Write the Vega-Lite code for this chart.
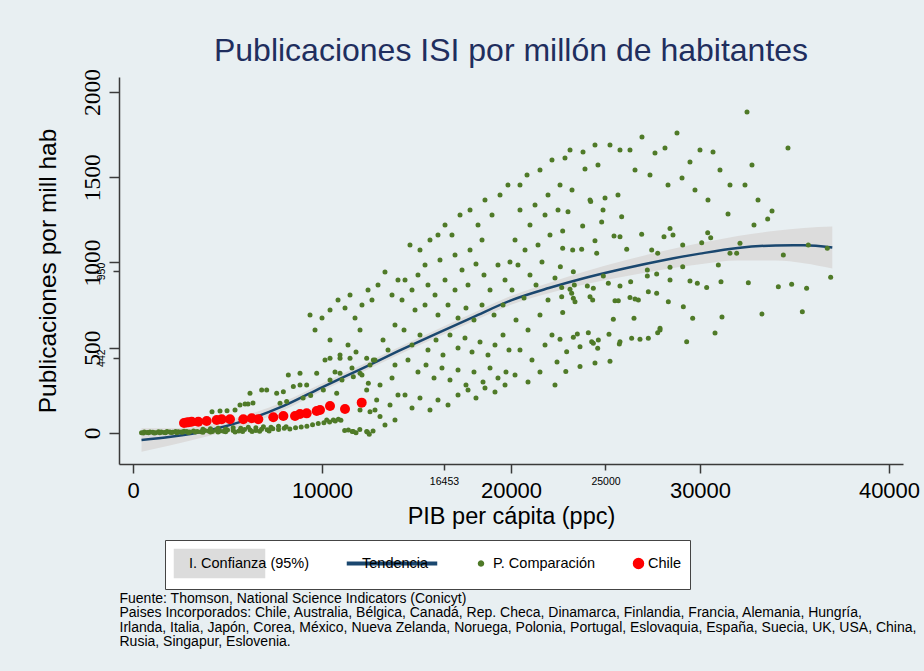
{
  "$schema": "https://vega.github.io/schema/vega-lite/v6.json",
  "width": 784,
  "height": 387,
  "autosize": {"type": "none"},
  "padding": {"left": 119, "top": 77, "right": 21, "bottom": 207},
  "background": "#e8eff2",
  "title": {
    "text": "Publicaciones ISI por millón de habitantes",
    "fontSize": 32,
    "font": "Liberation Sans",
    "fontWeight": "normal",
    "color": "#1f2e5e",
    "anchor": "middle",
    "frame": "group",
    "baseline": "alphabetic",
    "offset": -24
  },
  "datasets": {
    "fit": [
      {"pib": 450, "fit": -41, "lo": -110, "hi": 28},
      {"pib": 2000, "fit": -22, "lo": -72, "hi": 28},
      {"pib": 4000, "fit": 15, "lo": -18, "hi": 48},
      {"pib": 6000, "fit": 75, "lo": 45, "hi": 105},
      {"pib": 8000, "fit": 160, "lo": 135, "hi": 185},
      {"pib": 10000, "fit": 268, "lo": 246, "hi": 290},
      {"pib": 12000, "fit": 372, "lo": 350, "hi": 394},
      {"pib": 14000, "fit": 478, "lo": 456, "hi": 500},
      {"pib": 16000, "fit": 580, "lo": 557, "hi": 603},
      {"pib": 18000, "fit": 680, "lo": 656, "hi": 704},
      {"pib": 20000, "fit": 778, "lo": 752, "hi": 804},
      {"pib": 22000, "fit": 850, "lo": 820, "hi": 880},
      {"pib": 24000, "fit": 912, "lo": 874, "hi": 950},
      {"pib": 26000, "fit": 965, "lo": 918, "hi": 1012},
      {"pib": 28000, "fit": 1012, "lo": 958, "hi": 1066},
      {"pib": 30000, "fit": 1052, "lo": 990, "hi": 1114},
      {"pib": 32000, "fit": 1085, "lo": 1012, "hi": 1156},
      {"pib": 34000, "fit": 1100, "lo": 1012, "hi": 1186},
      {"pib": 35500, "fit": 1101, "lo": 996, "hi": 1203},
      {"pib": 37000, "fit": 1088, "lo": 965, "hi": 1211}
    ],
    "comp": [
      {"pib":450,"pub":2},{"pib":600,"pub":5},{"pib":750,"pub":3},{"pib":900,"pub":6},{"pib":1050,"pub":4},{"pib":1200,"pub":2},{"pib":1350,"pub":7},{"pib":1500,"pub":5},{"pib":1650,"pub":3},{"pib":1800,"pub":8},{"pib":1950,"pub":6},{"pib":2100,"pub":4},{"pib":2250,"pub":9},{"pib":2400,"pub":7},{"pib":2550,"pub":5},{"pib":2700,"pub":10},{"pib":2850,"pub":8},{"pib":3000,"pub":6},{"pib":3200,"pub":12},{"pib":3400,"pub":9},{"pib":3600,"pub":7},{"pib":3800,"pub":14},{"pib":4000,"pub":11},{"pib":4200,"pub":9},{"pib":4400,"pub":16},{"pib":4600,"pub":12},{"pib":4800,"pub":10},{"pib":5000,"pub":18},{"pib":5300,"pub":14},{"pib":5600,"pub":12},{"pib":5900,"pub":20},{"pib":6200,"pub":17},{"pib":6500,"pub":15},{"pib":6800,"pub":22},{"pib":7100,"pub":19},{"pib":7400,"pub":25},{"pib":7700,"pub":21},{"pib":8000,"pub":28},{"pib":8300,"pub":24},{"pib":8600,"pub":30},{"pib":8900,"pub":35},{"pib":9200,"pub":40},{"pib":9500,"pub":48},{"pib":9800,"pub":55},{"pib":10100,"pub":60},{"pib":10400,"pub":65},{"pib":10700,"pub":70},{"pib":11000,"pub":75},
      {"pib":550,"pub":0},{"pib":820,"pub":1},{"pib":1120,"pub":0},{"pib":1420,"pub":2},{"pib":1720,"pub":1},{"pib":2020,"pub":3},{"pib":2320,"pub":2},{"pib":2620,"pub":4},{"pib":2920,"pub":3},{"pib":3300,"pub":5},{"pib":3700,"pub":4},{"pib":4100,"pub":6},{"pib":4500,"pub":5},{"pib":4900,"pub":7},{"pib":5400,"pub":6},{"pib":5800,"pub":9},{"pib":6300,"pub":8},{"pib":6700,"pub":10},{"pib":7200,"pub":12},
      {"pib":3700,"pub":22},{"pib":4100,"pub":25},{"pib":4500,"pub":28},{"pib":4900,"pub":24},{"pib":5300,"pub":30},{"pib":5700,"pub":27},{"pib":6100,"pub":33},{"pib":6500,"pub":30},{"pib":6900,"pub":36},{"pib":7300,"pub":33},{"pib":7700,"pub":40},{"pib":8100,"pub":36},
      {"pib":11200,"pub":15},{"pib":11600,"pub":8},{"pib":12000,"pub":20},{"pib":12400,"pub":5},{"pib":12700,"pub":12},{"pib":11800,"pub":2},{"pib":12500,"pub":-8},{"pib":11394,"pub":18},{"pib":11658,"pub":8},{"pib":12364,"pub":8},
      {"pib":4180,"pub":125},{"pib":4603,"pub":129},{"pib":4974,"pub":131},{"pib":5397,"pub":135},{"pib":5661,"pub":164},{"pib":5926,"pub":170},{"pib":6085,"pub":170},{"pib":6349,"pub":176},{"pib":6190,"pub":233},{"pib":6808,"pub":252},{"pib":7073,"pub":252},{"pib":7602,"pub":233},{"pib":7955,"pub":242},{"pib":8219,"pub":340},{"pib":8483,"pub":272},{"pib":8836,"pub":350},{"pib":8836,"pub":282},{"pib":9189,"pub":282},{"pib":9719,"pub":350},{"pib":10071,"pub":252},{"pib":10424,"pub":311},{"pib":10424,"pub":438},{"pib":10777,"pub":233},{"pib":10953,"pub":350},{"pib":10953,"pub":438},{"pib":11482,"pub":438},{"pib":11658,"pub":330},{"pib":12011,"pub":350},{"pib":12364,"pub":252},{"pib":12451,"pub":291},{"pib":12364,"pub":438},{"pib":12716,"pub":428},{"pib":12893,"pub":194},{"pib":10248,"pub":76},{"pib":10600,"pub":76},{"pib":10865,"pub":80},{"pib":12011,"pub":135},{"pib":12540,"pub":125},{"pib":13069,"pub":96},{"pib":7778,"pub":174},{"pib":8130,"pub":184},{"pib":9000,"pub":205},{"pib":9400,"pub":220},
      {"pib":9365,"pub":692},{"pib":10000,"pub":674},{"pib":10424,"pub":721},{"pib":10847,"pub":780},{"pib":11217,"pub":733},{"pib":11482,"pub":809},{"pib":11746,"pub":674},{"pib":12116,"pub":751},{"pib":12434,"pub":839},{"pib":12645,"pub":780},{"pib":12963,"pub":868},{"pib":13333,"pub":944},{"pib":13704,"pub":809},{"pib":14021,"pub":897},{"pib":12011,"pub":604},{"pib":11376,"pub":516},{"pib":10424,"pub":545},{"pib":9630,"pub":604},{"pib":10953,"pub":457},{"pib":11799,"pub":475},{"pib":12540,"pub":399},{"pib":13228,"pub":545},{"pib":13862,"pub":633},{"pib":10159,"pub":428},{"pib":10688,"pub":358},{"pib":11058,"pub":311},{"pib":11587,"pub":381},{"pib":12116,"pub":340},{"pib":12804,"pub":428},{"pib":13492,"pub":487},{"pib":13862,"pub":399},{"pib":13069,"pub":282},{"pib":13704,"pub":323},{"pib":14021,"pub":223},{"pib":13598,"pub":164},{"pib":12804,"pub":135},{"pib":13862,"pub":76},{"pib":13333,"pub":47},
      {"pib":14656,"pub":1103},{"pib":15185,"pub":1073},{"pib":15714,"pub":1132},{"pib":16137,"pub":1161},{"pib":16508,"pub":1220},{"pib":16878,"pub":1161},{"pib":17302,"pub":1279},{"pib":17831,"pub":1308},{"pib":18254,"pub":1220},{"pib":18624,"pub":1367},{"pib":18995,"pub":1279},{"pib":19418,"pub":1396},{"pib":19841,"pub":1455},{"pib":18466,"pub":1132},{"pib":17831,"pub":1073},{"pib":17037,"pub":1044},{"pib":16243,"pub":1015},{"pib":15450,"pub":985},
      {"pib":14392,"pub":897},{"pib":14762,"pub":839},{"pib":15079,"pub":927},{"pib":15608,"pub":868},{"pib":15979,"pub":809},{"pib":16508,"pub":897},{"pib":17037,"pub":839},{"pib":17408,"pub":956},{"pib":17725,"pub":868},{"pib":18148,"pub":991},{"pib":18571,"pub":927},{"pib":18889,"pub":839},{"pib":19312,"pub":985},{"pib":19683,"pub":897},{"pib":19947,"pub":1003},{"pib":14233,"pub":780},{"pib":14921,"pub":721},{"pib":15450,"pub":751},{"pib":16137,"pub":692},{"pib":16667,"pub":751},{"pib":17196,"pub":674},{"pib":17619,"pub":733},{"pib":18042,"pub":663},{"pib":18466,"pub":751},{"pib":19101,"pub":692},{"pib":19577,"pub":751},
      {"pib":14339,"pub":604},{"pib":14762,"pub":516},{"pib":15185,"pub":575},{"pib":15608,"pub":487},{"pib":16032,"pub":545},{"pib":16402,"pub":457},{"pib":16772,"pub":575},{"pib":17196,"pub":498},{"pib":17566,"pub":557},{"pib":17937,"pub":475},{"pib":18360,"pub":534},{"pib":18783,"pub":457},{"pib":19153,"pub":516},{"pib":19577,"pub":575},{"pib":19894,"pub":487},{"pib":14550,"pub":428},{"pib":15079,"pub":358},{"pib":15503,"pub":399},{"pib":15926,"pub":323},{"pib":16349,"pub":381},{"pib":16772,"pub":311},{"pib":17196,"pub":370},{"pib":17619,"pub":282},{"pib":18042,"pub":358},{"pib":18519,"pub":299},{"pib":18889,"pub":381},{"pib":19312,"pub":323},{"pib":19735,"pub":358},
      {"pib":14392,"pub":223},{"pib":14762,"pub":147},{"pib":15185,"pub":205},{"pib":15714,"pub":135},{"pib":16137,"pub":194},{"pib":16667,"pub":164},{"pib":17196,"pub":223},{"pib":17725,"pub":252},{"pib":18148,"pub":205},{"pib":18624,"pub":264},{"pib":19153,"pub":240},{"pib":19683,"pub":282},
      {"pib":20476,"pub":1455},{"pib":20847,"pub":1513},{"pib":21534,"pub":1542},{"pib":22169,"pub":1601},{"pib":21958,"pub":1396},{"pib":21270,"pub":1337},{"pib":20476,"pub":1308},{"pib":21005,"pub":1220},{"pib":21799,"pub":1279},{"pib":22487,"pub":1308},
      {"pib":20212,"pub":1132},{"pib":20741,"pub":1073},{"pib":21429,"pub":1103},{"pib":22063,"pub":1161},{"pib":20370,"pub":985},{"pib":21005,"pub":927},{"pib":21640,"pub":1003},{"pib":22328,"pub":909},{"pib":20053,"pub":839},{"pib":20688,"pub":792},{"pib":21323,"pub":868},{"pib":21958,"pub":780},
      {"pib":20265,"pub":663},{"pib":20900,"pub":604},{"pib":21534,"pub":692},{"pib":22169,"pub":575},{"pib":20476,"pub":487},{"pib":21111,"pub":428},{"pib":21799,"pub":516},{"pib":22434,"pub":416},
      {"pib":20212,"pub":340},{"pib":20900,"pub":299},{"pib":21534,"pub":358},{"pib":22328,"pub":282},{"pib":22900,"pub":360},{"pib":23651,"pub":390},{"pib":24444,"pub":410},{"pib":25238,"pub":420},
      {"pib":22857,"pub":1613},{"pib":23122,"pub":1660},{"pib":23810,"pub":1648},{"pib":24444,"pub":1689},{"pib":25238,"pub":1689},{"pib":25767,"pub":1660},{"pib":24603,"pub":1572},{"pib":23915,"pub":1548},{"pib":23228,"pub":1425},{"pib":22593,"pub":1455},{"pib":24180,"pub":1367},{"pib":24974,"pub":1378},{"pib":25661,"pub":1396},
      {"pib":26296,"pub":1660},{"pib":26931,"pub":1736},{"pib":27619,"pub":1642},{"pib":28148,"pub":1671},{"pib":28783,"pub":1760},{"pib":29471,"pub":1589},{"pib":30000,"pub":1660},{"pib":30688,"pub":1648},{"pib":31058,"pub":1542},{"pib":31587,"pub":1455},{"pib":26561,"pub":1542},{"pib":27354,"pub":1513},{"pib":28307,"pub":1455},{"pib":29048,"pub":1496},{"pib":29735,"pub":1425},{"pib":30423,"pub":1367},
      {"pib":32487,"pub":1883},{"pib":32751,"pub":1572},{"pib":32381,"pub":1455},{"pib":33069,"pub":1367},{"pib":34656,"pub":1671},
      {"pib":23016,"pub":1298},{"pib":24868,"pub":1308},{"pib":24216,"pub":1357},{"pib":25855,"pub":1269},{"pib":31482,"pub":1284},{"pib":32857,"pub":1220},{"pib":33580,"pub":1255},{"pib":33810,"pub":1302},{"pib":23792,"pub":1214},{"pib":24797,"pub":1237},{"pib":22734,"pub":1185},
      {"pib":28413,"pub":1200},{"pib":28571,"pub":1161},{"pib":28095,"pub":1151},{"pib":26914,"pub":1165},{"pib":25450,"pub":1155},{"pib":25767,"pub":1151},{"pib":24444,"pub":1128},{"pib":23263,"pub":1073},{"pib":23739,"pub":1077},{"pib":24534,"pub":1054},{"pib":26122,"pub":1077},{"pib":27445,"pub":1073},{"pib":27762,"pub":1054},{"pib":29085,"pub":1103},{"pib":30090,"pub":1116},{"pib":30407,"pub":1175},{"pib":30566,"pub":1145},{"pib":32116,"pub":1113},{"pib":31587,"pub":1054},{"pib":31940,"pub":1054},{"pib":34409,"pub":1044},{"pib":35730,"pub":1103},{"pib":36736,"pub":1083},{"pib":36914,"pub":913},{"pib":35641,"pub":849},{"pib":34850,"pub":872},{"pib":34145,"pub":858},{"pib":32557,"pub":881},{"pib":35414,"pub":711},
      {"pib":30970,"pub":985},{"pib":30353,"pub":854},{"pib":31111,"pub":887},{"pib":29858,"pub":878},{"pib":29471,"pub":892},{"pib":29085,"pub":975},{"pib":28413,"pub":972},{"pib":28413,"pub":897},{"pib":29118,"pub":741},{"pib":29612,"pub":673},{"pib":28324,"pub":770},{"pib":27884,"pub":614},{"pib":27760,"pub":588},{"pib":27266,"pub":829},{"pib":27707,"pub":819},{"pib":27213,"pub":956},{"pib":27213,"pub":921},{"pib":27707,"pub":932},{"pib":26508,"pub":673},{"pib":26738,"pub":780},{"pib":26561,"pub":786},{"pib":26296,"pub":794},{"pib":25502,"pub":776},{"pib":25678,"pub":776},{"pib":25414,"pub":667},
      {"pib":26384,"pub":555},{"pib":26825,"pub":550},{"pib":27266,"pub":555},{"pib":25767,"pub":535},{"pib":25732,"pub":522},{"pib":25185,"pub":579},{"pib":24356,"pub":526},{"pib":24091,"pub":588},{"pib":23651,"pub":506},{"pib":23298,"pub":561},{"pib":22945,"pub":477},{"pib":24620,"pub":545},{"pib":24587,"pub":497},{"pib":24268,"pub":535},{"pib":23510,"pub":580},{"pib":22593,"pub":550},{"pib":22735,"pub":706},{"pib":22682,"pub":799},{"pib":23298,"pub":790},{"pib":23386,"pub":770},{"pib":24180,"pub":799},{"pib":24322,"pub":780},
      {"pib":23298,"pub":946},{"pib":23122,"pub":843},{"pib":23210,"pub":819},{"pib":24356,"pub":849},{"pib":24039,"pub":862},{"pib":24885,"pub":921},{"pib":25150,"pub":878},{"pib":25767,"pub":862},{"pib":26331,"pub":887},{"pib":23351,"pub":868},{"pib":22682,"pub":854},{"pib":22611,"pub":975},{"pib":22734,"pub":1083},{"pib":33280,"pub":698},{"pib":31164,"pub":680},{"pib":29295,"pub":535},{"pib":30794,"pub":586},{"pib":27884,"pub":604}
    ],
    "chile": [
      {"pib":2700,"pub":58},{"pib":2841,"pub":61},{"pib":2950,"pub":63},{"pib":3106,"pub":66},{"pib":3455,"pub":66},{"pib":3899,"pub":70},{"pib":4429,"pub":76},{"pib":4693,"pub":80},{"pib":5132,"pub":80},{"pib":5836,"pub":80},{"pib":6280,"pub":86},{"pib":6630,"pub":80},{"pib":7423,"pub":92},{"pib":7955,"pub":100},{"pib":8572,"pub":100},{"pib":8836,"pub":111},{"pib":9190,"pub":115},{"pib":9720,"pub":129},{"pib":9894,"pub":135},{"pib":10424,"pub":158},{"pib":11217,"pub":141},{"pib":12100,"pub":178}
    ]
  },
  "layer": [
    {
      "data": {"name": "fit"},
      "mark": {"type": "area", "interpolate": "monotone", "opacity": 1},
      "encoding": {
        "x": {
          "field": "pib", "type": "quantitative",
          "scale": {"domain": [-741, 40741], "nice": false, "zero": false},
          "axis": {
            "values": [0, 10000, 20000, 30000, 40000], "format": "d",
            "title": "PIB per cápita (ppc)",
            "labelFontSize": 22, "titleFontSize": 23.5,
            "tickSize": 9, "labelPadding": 7, "titlePadding": 3,
            "grid": false, "domainWidth": 1.5, "tickWidth": 1.5,
            "labelFlush": false, "labelOverlap": false
          }
        },
        "y": {
          "field": "lo", "type": "quantitative",
          "scale": {"domain": [-182, 2088], "nice": false, "zero": false},
          "axis": {
            "values": [0, 500, 1000, 1500, 2000], "format": "d",
            "title": "Publicaciones por mill hab",
            "labelAngle": 270, "labelAlign": "center", "labelBaseline": "bottom",
            "labelFont": "Liberation Sans Narrow", "labelFontSize": 23.5,
            "tickSize": 10, "labelPadding": 5,
            "titleFontSize": 24.5, "titlePadding": 20,
            "grid": true, "gridColor": "#e8eff2", "gridWidth": 2,
            "domainWidth": 1.5, "tickWidth": 1.5, "labelOverlap": false
          }
        },
        "y2": {"field": "hi"},
        "color": {"datum": "\u00a0\u00a0\u00a0\u00a0\u00a0\u00a0\u00a0\u00a0\u00a0\u00a0\u00a0\u00a0\u00a0\u00a0\u00a0\u00a0\u00a0\u00a0\u00a0\u00a0\u00a0\u00a0\u00a0I. Confianza (95%)", "legend": {"title": null}}
      }
    },
    {
      "data": {"name": "fit"},
      "mark": {"type": "line", "interpolate": "monotone", "strokeWidth": 2.5},
      "encoding": {
        "x": {"field": "pib", "type": "quantitative", "axis": null},
        "y": {"field": "fit", "type": "quantitative", "axis": null},
        "color": {"datum": "\u00a0\u00a0\u00a0\u00a0\u00a0\u00a0\u00a0\u00a0\u00a0\u00a0\u00a0\u00a0\u00a0\u00a0\u00a0\u00a0\u00a0\u00a0\u00a0\u00a0\u00a0\u00a0\u00a0Tendencia", "legend": {"title": null}}
      }
    },
    {
      "data": {"name": "comp"},
      "mark": {"type": "point", "filled": true, "shape": "circle", "size": 25, "opacity": 1},
      "encoding": {
        "x": {
          "field": "pib", "type": "quantitative",
          "axis": {
            "orient": "bottom", "values": [16453, 25000], "format": "d", "title": null,
            "labelFontSize": 10.5, "tickSize": 6, "labelPadding": 6,
            "domain": false, "grid": false, "tickWidth": 1.5,
            "labelFlush": false, "labelOverlap": false
          }
        },
        "y": {
          "field": "pub", "type": "quantitative",
          "axis": {
            "orient": "left", "values": [442, 950], "format": "d", "title": null,
            "labelAngle": 270, "labelAlign": "center", "labelBaseline": "bottom",
            "labelFontSize": 10.5, "tickSize": 6, "labelPadding": 7,
            "domain": false, "grid": false, "tickWidth": 1.5, "labelOverlap": false
          }
        },
        "color": {"datum": "P. Comparación", "legend": {"title": null}}
      }
    },
    {
      "data": {"name": "chile"},
      "mark": {"type": "point", "filled": true, "shape": "circle", "size": 100, "opacity": 1},
      "encoding": {
        "x": {
          "field": "pib", "type": "quantitative",
          "axis": {
            "orient": "bottom", "labels": false, "ticks": false, "domain": false, "grid": false,
            "title": [
              "Fuente: Thomson, National Science Indicators (Conicyt)",
              "Paises Incorporados: Chile, Australia, Bélgica, Canadá, Rep. Checa, Dinamarca, Finlandia, Francia, Alemania, Hungría,",
              "Irlanda, Italia, Japón, Corea, México, Nueva Zelanda, Noruega, Polonia, Portugal, Eslovaquia, España, Suecia, UK, USA, China,",
              "Rusia, Singapur, Eslovenia."
            ],
            "titleFontSize": 14, "titleAnchor": "start", "titleAlign": "left",
            "titleBaseline": "top", "titlePadding": 127, "titleLineHeight": 14.5
          }
        },
        "y": {"field": "pub", "type": "quantitative", "axis": null},
        "color": {"datum": "\u00a0\u00a0\u00a0Chile", "legend": {"title": null}}
      }
    },
    {
      "data": {"values": []},
      "mark": {"type": "point", "filled": true, "opacity": 1},
      "encoding": {
        "color": {
          "datum": "\u00a0\u00a0\u00a0Chile",
          "scale": {"domain": ["\u00a0\u00a0\u00a0\u00a0\u00a0\u00a0\u00a0\u00a0\u00a0\u00a0\u00a0\u00a0\u00a0\u00a0\u00a0\u00a0\u00a0\u00a0\u00a0\u00a0\u00a0\u00a0\u00a0I. Confianza (95%)", "\u00a0\u00a0\u00a0\u00a0\u00a0\u00a0\u00a0\u00a0\u00a0\u00a0\u00a0\u00a0\u00a0\u00a0\u00a0\u00a0\u00a0\u00a0\u00a0\u00a0\u00a0\u00a0\u00a0Tendencia", "P. Comparación", "\u00a0\u00a0\u00a0Chile"], "range": ["#dcdcdc", "#1a476f", "#4f7a28", "#ff0000"]},
          "legend": {"title": null}
        },
        "shape": {
          "datum": "\u00a0\u00a0\u00a0Chile",
          "scale": {
            "domain": ["\u00a0\u00a0\u00a0\u00a0\u00a0\u00a0\u00a0\u00a0\u00a0\u00a0\u00a0\u00a0\u00a0\u00a0\u00a0\u00a0\u00a0\u00a0\u00a0\u00a0\u00a0\u00a0\u00a0I. Confianza (95%)", "\u00a0\u00a0\u00a0\u00a0\u00a0\u00a0\u00a0\u00a0\u00a0\u00a0\u00a0\u00a0\u00a0\u00a0\u00a0\u00a0\u00a0\u00a0\u00a0\u00a0\u00a0\u00a0\u00a0Tendencia", "P. Comparación", "\u00a0\u00a0\u00a0Chile"],
            "range": [
              "M-1,-1H5.4286V1H-1Z",
              "M-1,-0.0893H5.357V0.0893H-1ZM0,-1L0,-1M0,1L0,1",
              "M-1,0A0.1786,0.1786,0,1,1,-0.6429,0A0.1786,0.1786,0,1,1,-1,0ZM-0.8214,-1L-0.8214,-1M-0.8214,1L-0.8214,1",
              "M-1,0A0.357,0.357,0,1,1,-0.2857,0A0.357,0.357,0,1,1,-1,0ZM-0.6429,-1L-0.6429,-1M-0.6429,1L-0.6429,1"
            ]
          },
          "legend": {"title": null}
        }
      }
    }
  ],
  "resolve": {"axis": {"x": "independent", "y": "independent"}},
  "config": {
    "font": "Liberation Sans",
    "view": {"stroke": null, "fill": "white"},
    "axis": {
      "labelColor": "#000", "titleColor": "#000", "titleFontWeight": "normal",
      "domainColor": "#3a3a3a", "tickColor": "#3a3a3a", "labelFont": "Liberation Sans", "titleFont": "Liberation Sans"
    },
    "legend": {
      "orient": "none", "legendX": 46, "legendY": 463,
      "direction": "horizontal", "columns": 4, "columnPadding": 35,
      "padding": 8.5, "fillColor": "white", "strokeColor": "#444",
      "labelFontSize": 14.5, "labelColor": "#000", "labelOffset": -14.5,
      "symbolSize": 784, "symbolOpacity": 1, "labelFont": "Liberation Sans"
    }
  }
}
